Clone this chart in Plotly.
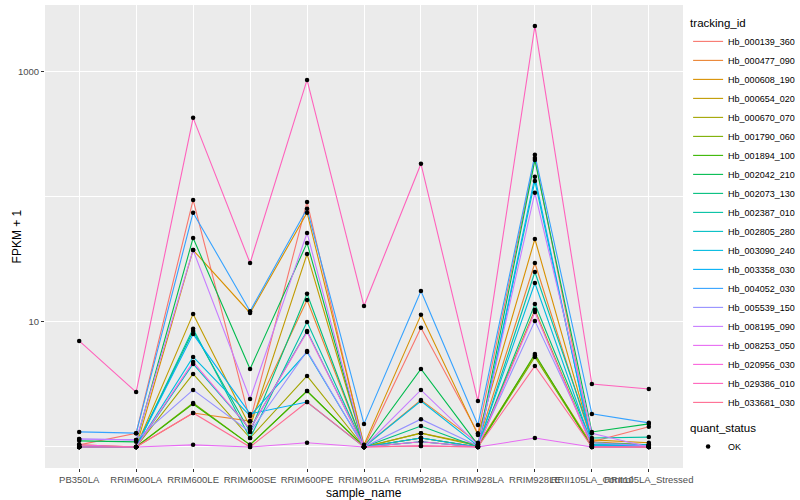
import plotly.graph_objects as go

samples = ["PB350LA", "RRIM600LA", "RRIM600LE", "RRIM600SE", "RRIM600PE", "RRIM901LA",
           "RRIM928BA", "RRIM928LA", "RRIM928LE", "RRII105LA_Control", "RRII105LA_Stressed"]

tracking_ids = ["Hb_000139_360", "Hb_000477_090", "Hb_000608_190", "Hb_000654_020", "Hb_000670_070",
                "Hb_001790_060", "Hb_001894_100", "Hb_002042_210", "Hb_002073_130", "Hb_002387_010",
                "Hb_002805_280", "Hb_003090_240", "Hb_003358_030", "Hb_004052_030", "Hb_005539_150",
                "Hb_008195_090", "Hb_008253_050", "Hb_020956_030", "Hb_029386_010", "Hb_033681_030"]

colors = ["#F8766D", "#EA8331", "#D89000", "#C09B00", "#A3A500", "#7CAE00", "#39B600", "#00BB4E",
          "#00BF7D", "#00C1A3", "#00BFC4", "#00BAE0", "#00B0F6", "#35A2FF", "#9590FF", "#C77CFF",
          "#E76BF3", "#FA62DB", "#FF62BC", "#FF6C91"]

# FPKM + 1 per sample (order of `samples`)
hb_000139_360 = [1.04, 1.29, 94.6, 1.61, 91.2, 1.00, 8.97, 1.29, 205, 1.10, 1.45]
hb_000477_090 = [1.00, 1.00, 1.87, 1.61, 15.0, 1.00, 2.38, 1.08, 29.6, 1.10, 1.04]
hb_000608_190 = [1.00, 1.00, 37.6, 11.8, 74.8, 1.04, 11.4, 1.25, 46.1, 1.14, 1.08]
hb_000654_020 = [1.04, 1.00, 11.6, 1.45, 34.9, 1.00, 1.29, 1.04, 5.4, 1.04, 1.02]
hb_000670_070 = [1.00, 1.00, 3.84, 1.18, 3.70, 1.00, 1.29, 1.02, 12.5, 1.02, 1.00]
hb_001790_060 = [1.00, 1.00, 2.25, 1.04, 2.80, 1.00, 1.18, 1.00, 5.25, 1.00, 1.00]
hb_001894_100 = [1.00, 1.00, 2.21, 1.04, 2.80, 1.00, 1.18, 1.00, 5.54, 1.00, 1.00]
hb_002042_210 = [1.12, 1.10, 47.0, 4.21, 42.9, 1.00, 4.21, 1.04, 197, 1.32, 1.53]
hb_002073_130 = [1.00, 1.00, 8.47, 1.32, 16.8, 1.00, 1.47, 1.00, 13.9, 1.08, 1.04]
hb_002387_010 = [1.00, 1.00, 8.81, 1.18, 10.0, 1.00, 1.10, 1.00, 25.1, 1.18, 1.20]
hb_002805_280 = [1.00, 1.00, 4.61, 1.39, 8.47, 1.00, 1.10, 1.00, 134, 1.04, 1.04]
hb_003090_240 = [1.00, 1.00, 5.25, 1.77, 5.75, 1.00, 2.33, 1.02, 20.5, 1.04, 1.02]
hb_003358_030 = [1.00, 1.00, 8.0, 1.84, 2.29, 1.00, 1.18, 1.00, 145, 1.02, 1.02]
hb_004052_030 = [1.32, 1.29, 74.8, 12.2, 80.4, 1.53, 17.7, 1.50, 217, 1.84, 1.56]
hb_005539_150 = [1.16, 1.14, 2.86, 1.32, 5.86, 1.00, 1.67, 1.02, 10.2, 1.08, 1.02]
hb_008195_090 = [1.16, 1.14, 37.6, 2.42, 51.5, 1.00, 2.86, 1.04, 108, 1.29, 1.00]
hb_008253_050 = [1.00, 1.00, 1.04, 1.00, 1.08, 1.00, 1.02, 1.00, 1.18, 1.00, 1.00]
hb_020956_030 = [1.04, 1.00, 4.79, 1.39, 8.32, 1.00, 1.10, 1.00, 12.0, 1.00, 1.00]
hb_029386_010 = [7.05, 2.75, 429, 29.6, 863, 13.4, 184, 2.33, 2330, 3.19, 2.91]
hb_033681_030 = [1.00, 1.00, 1.87, 1.00, 2.29, 1.00, 1.02, 1.00, 4.44, 1.00, 1.00]

series = [hb_000139_360, hb_000477_090, hb_000608_190, hb_000654_020, hb_000670_070,
          hb_001790_060, hb_001894_100, hb_002042_210, hb_002073_130, hb_002387_010,
          hb_002805_280, hb_003090_240, hb_003358_030, hb_004052_030, hb_005539_150,
          hb_008195_090, hb_008253_050, hb_020956_030, hb_029386_010, hb_033681_030]

FONT = "Liberation Sans, Arial, sans-serif"

fig = go.Figure()
for name, col, vals in zip(tracking_ids, colors, series):
    fig.add_trace(go.Scatter(x=samples, y=vals, mode="lines", name=name,
                             line=dict(color=col, width=1.1), legend="legend"))

all_x = [s for vals in series for s in samples]
all_y = [v for vals in series for v in vals]
fig.add_trace(go.Scatter(x=all_x, y=all_y, mode="markers", name="OK",
                         marker=dict(color="black", size=4.5, symbol="circle"),
                         legend="legend2"))

fig.update_layout(
    width=800, height=500,
    margin=dict(l=45, r=117, t=5, b=32, autoexpand=False),
    paper_bgcolor="white", plot_bgcolor="#EBEBEB",
    font=dict(family=FONT, size=10, color="#4D4D4D"),
    showlegend=True,
    legend=dict(title=dict(text="tracking_id", font=dict(size=11.5, color="black")),
                x=1.008, xanchor="left", y=0.985, yanchor="top",
                font=dict(size=9, color="black"), itemwidth=30,
                bgcolor="rgba(0,0,0,0)", tracegroupgap=0),
    legend2=dict(title=dict(text="quant_status", font=dict(size=11.5, color="black")),
                 x=1.008, xanchor="left", y=0.11, yanchor="top",
                 font=dict(size=9, color="black"), itemwidth=30,
                 bgcolor="rgba(0,0,0,0)"),
    annotations=[
        dict(text="sample_name", xref="paper", yref="paper", x=0.5, y=-0.053,
             xanchor="center", yanchor="middle", showarrow=False,
             font=dict(size=12, color="black", family=FONT)),
        dict(text="FPKM + 1", xref="paper", yref="paper", x=-0.044, y=0.5,
             xanchor="center", yanchor="middle", textangle=-90, showarrow=False,
             font=dict(size=12, color="black", family=FONT)),
    ],
)

fig.update_xaxes(
    type="category", categoryorder="array", categoryarray=samples,
    range=[-0.6, len(samples) - 0.4],
    showgrid=True, gridcolor="white", gridwidth=1.2,
    ticks="outside", ticklen=3, tickcolor="#333333", tickwidth=1,
    tickangle=0, tickfont=dict(size=9.5, color="#4D4D4D"),
    zeroline=False, showline=False, automargin=False,
)

fig.update_yaxes(
    type="log", range=[-0.168, 3.535],
    tickvals=[10, 1000], ticktext=["10", "1000"],
    showgrid=True, gridcolor="white", gridwidth=1.2,
    minor=dict(tickvals=[1, 100], showgrid=True, gridcolor="white", gridwidth=0.6, ticks=""),
    ticks="outside", ticklen=3, tickcolor="#333333", tickwidth=1,
    tickfont=dict(size=9.5, color="#4D4D4D"),
    zeroline=False, showline=False, automargin=False,
)

fig.write_html("out.html", config={"displayModeBar": False},
               post_script="document.body.style.margin='0';")
